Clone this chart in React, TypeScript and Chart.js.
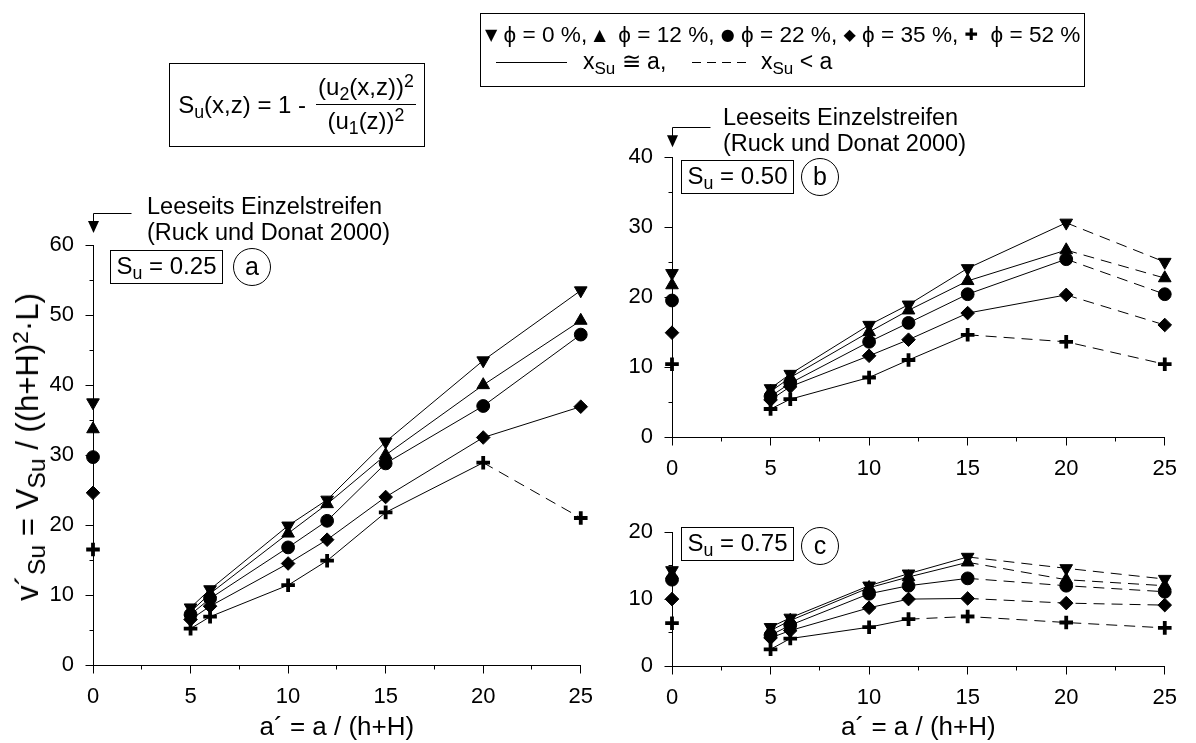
import React, { useEffect, useRef } from 'react';
import { Chart, registerables } from 'chart.js';

Chart.register(...registerables);

const FONT = '"Liberation Sans", Arial, Helvetica, sans-serif';
const SYMBOL_FONT = '"DejaVu Sans", sans-serif';
Chart.defaults.font.family = FONT;
Chart.defaults.color = '#000';

// relative spacing a' = a / (h+H) of the measured strip configurations
const spacing = [5, 6, 10, 12, 15, 20, 25];
const porosity = ['ϕ = 0 %', 'ϕ = 12 %', 'ϕ = 22 %', 'ϕ = 35 %', 'ϕ = 52 %'];
const X_TITLE = 'a´ = a / (h+H)';

// S_u = 0.25
const su25Phi0 = [8.2, 10.8, 19.9, 23.6, 31.9, 43.5, 53.5];
const su25Phi12 = [7.6, 10.2, 18.8, 23.0, 30.0, 40.0, 49.2];
const su25Phi22 = [7.2, 9.5, 16.8, 20.6, 28.8, 37.0, 47.2];
const su25Phi35 = [6.5, 8.4, 14.5, 17.9, 24.0, 32.5, 36.9];
const su25Phi52 = [5.2, 6.9, 11.4, 14.9, 21.8, 28.9, 21.0];
// single leeward strip (a' = 0)
const su25Single = [37.5, 33.7, 29.7, 24.6, 16.5];
// index of the first segment where x_Su < a (dashed)
const su25DashFrom = [7, 7, 7, 7, 5];
const su25Reference = 61.7;

// S_u = 0.50
const su50Phi0 = [6.95, 9.0, 16.0, 18.9, 24.1, 30.6, 25.0];
const su50Phi12 = [6.5, 8.5, 15.0, 18.1, 22.3, 26.7, 22.7];
const su50Phi22 = [5.8, 7.7, 13.6, 16.3, 20.4, 25.4, 20.4];
const su50Phi35 = [5.3, 7.2, 11.6, 13.9, 17.7, 20.3, 16.0];
const su50Phi52 = [4.0, 5.4, 8.5, 11.0, 14.6, 13.6, 10.4];
const su50Single = [23.4, 21.7, 19.5, 14.9, 10.4];
const su50DashFrom = [5, 5, 5, 5, 4];
const su50Reference = 41.4;

// S_u = 0.75
const su75Phi0 = [5.8, 7.2, 12.0, 13.8, 16.3, 14.6, 13.0];
const su75Phi12 = [5.3, 6.8, 11.7, 13.3, 15.5, 12.9, 12.0];
const su75Phi22 = [4.6, 6.1, 10.8, 12.0, 13.1, 12.0, 11.1];
const su75Phi35 = [4.2, 5.3, 8.7, 10.0, 10.1, 9.4, 9.1];
const su75Phi52 = [2.5, 4.1, 5.8, 7.0, 7.4, 6.5, 5.7];
const su75Single = [14.3, 13.6, 12.9, 10.0, 6.4];
const su75DashFrom = [4, 4, 4, 4, 3];

const MARKERS = [
  { style: 'triangle', rotation: 180, radius: 7.3, border: 1 },
  { style: 'triangle', rotation: 0, radius: 7.3, border: 1 },
  { style: 'circle', rotation: 0, radius: 6.4, border: 1 },
  { style: 'rectRot', rotation: 0, radius: 6.8, border: 1 },
  { style: 'cross', rotation: 0, radius: 6.8, border: 3.8 },
];

const pxAlign = (v: number) => Math.round(v - 0.5) + 0.5;

// minor/major tick marks and the pointer to the single-strip values
const axisMarks = {
  id: 'axisMarks',
  afterDraw(chart: any, _args: any, opts: any) {
    const { ctx } = chart;
    const xs = chart.scales.x;
    const ys = chart.scales.y;
    ctx.save();
    ctx.strokeStyle = '#000';
    ctx.fillStyle = '#000';
    ctx.lineWidth = 1;
    ctx.beginPath();
    const isMajor = (v: number, step: number) => Math.abs(v / step - Math.round(v / step)) < 1e-6;
    for (let v = xs.min; v <= xs.max + 1e-6; v += opts.xMinor) {
      const px = pxAlign(xs.getPixelForValue(v));
      const yb = pxAlign(ys.bottom);
      ctx.moveTo(px, yb);
      ctx.lineTo(px, yb + (isMajor(v, opts.xMajor) ? 8 : 4));
    }
    for (let v = ys.min; v <= ys.max + 1e-6; v += opts.yMinor) {
      const py = pxAlign(ys.getPixelForValue(v));
      const xl = pxAlign(xs.left);
      ctx.moveTo(xl, py);
      ctx.lineTo(xl - (isMajor(v, opts.yMajor) ? 8 : 4), py);
    }
    ctx.stroke();
    if (opts.arrowTip != null) {
      const x0 = pxAlign(xs.getPixelForValue(0));
      const tipY = ys.getPixelForValue(opts.arrowTip);
      const lineY = pxAlign(tipY - 20);
      ctx.beginPath();
      ctx.moveTo(x0 + opts.arrowLen, lineY);
      ctx.lineTo(x0, lineY);
      ctx.lineTo(x0, tipY - 10);
      ctx.stroke();
      ctx.beginPath();
      ctx.moveTo(x0 - 5.5, tipY - 12);
      ctx.lineTo(x0 + 5.5, tipY - 12);
      ctx.lineTo(x0, tipY);
      ctx.closePath();
      ctx.fill();
    }
    ctx.restore();
  },
};

type PanelSpec = {
  series: number[][];
  single: number[];
  dashFrom: number[];
  yMax: number;
  left: number;
  top: number;
  w: number;
  h: number;
  area: { l: number; r: number; t: number; b: number };
  xTitle: boolean;
  arrowTip?: number;
};

function buildDatasets(series: number[][], single: number[], dashFrom: number[]) {
  const out: any[] = [];
  series.forEach((vals, i) => {
    const m = MARKERS[i];
    const from = dashFrom[i];
    const pointProps = {
      pointStyle: m.style,
      pointRotation: m.rotation,
      pointRadius: m.radius,
      pointHoverRadius: m.radius,
      pointBorderWidth: m.border,
      pointBackgroundColor: '#000',
      pointBorderColor: '#000',
    };
    out.push({
      label: porosity[i],
      data: spacing.map((x, j) => ({ x, y: vals[j] })),
      borderColor: '#000',
      backgroundColor: '#000',
      borderWidth: 1,
      tension: 0,
      clip: false,
      segment: {
        borderDash: (ctx: any) => (ctx.p0DataIndex >= from ? [11, 7] : undefined),
      },
      ...pointProps,
    });
    out.push({
      label: porosity[i] + ' (Einzelstreifen)',
      data: [{ x: 0, y: single[i] }],
      showLine: false,
      borderColor: '#000',
      backgroundColor: '#000',
      clip: false,
      ...pointProps,
    });
  });
  return out;
}

function buildConfig(p: PanelSpec): any {
  return {
    type: 'line',
    data: { datasets: buildDatasets(p.series, p.single, p.dashFrom) },
    options: {
      responsive: false,
      animation: false,
      events: [],
      layout: { padding: { left: 0, top: p.area.t, right: p.w - p.area.r, bottom: 0 } },
      plugins: {
        legend: { display: false },
        tooltip: { enabled: false },
        axisMarks: { xMinor: 2.5, xMajor: 5, yMinor: 5, yMajor: 10, arrowTip: p.arrowTip, arrowLen: 38 },
      },
      scales: {
        x: {
          type: 'linear',
          min: 0,
          max: 25,
          afterFit: (s: any) => {
            s.height = p.h - p.area.b;
          },
          grid: { display: false, drawTicks: false },
          border: { display: true, color: '#000', width: 1 },
          ticks: { stepSize: 5, autoSkip: false, maxRotation: 0, padding: 19, color: '#000', font: { size: 22 } },
          title: {
            display: p.xTitle,
            text: X_TITLE,
            color: '#000',
            font: { size: 26 },
            padding: { top: 0, bottom: 0 },
          },
        },
        y: {
          type: 'linear',
          min: 0,
          max: p.yMax,
          afterFit: (s: any) => {
            s.width = p.area.l;
          },
          grid: { display: false, drawTicks: false },
          border: { display: true, color: '#000', width: 1 },
          ticks: { stepSize: 10, padding: 19, color: '#000', font: { size: 22 } },
        },
      },
    },
    plugins: [axisMarks],
  };
}

function Panel({ spec }: { spec: PanelSpec }) {
  const ref = useRef<HTMLCanvasElement>(null);
  useEffect(() => {
    const chart = new Chart(ref.current as HTMLCanvasElement, buildConfig(spec));
    return () => chart.destroy();
  }, []);
  return (
    <canvas
      ref={ref}
      width={spec.w}
      height={spec.h}
      style={{ position: 'absolute', left: spec.left, top: spec.top, width: spec.w, height: spec.h }}
    />
  );
}

const Sub = ({ children, size = '0.74em' }: { children: React.ReactNode; size?: string }) => (
  <span style={{ fontSize: size, position: 'relative', top: '0.3em' }}>{children}</span>
);
const Sup = ({ children }: { children: React.ReactNode }) => (
  <span style={{ fontSize: '0.74em', position: 'relative', top: '-0.45em' }}>{children}</span>
);
const Sym = ({ children }: { children: React.ReactNode }) => (
  <span style={{ fontFamily: SYMBOL_FONT, fontSize: 16, position: 'relative', top: -2 }}>{children}</span>
);

const abs = (left: number, top: number, extra: React.CSSProperties = {}): React.CSSProperties => ({
  position: 'absolute',
  left,
  top,
  whiteSpace: 'pre',
  ...extra,
});

function SuLabel({ left, top, value }: { left: number; top: number; value: string }) {
  return (
    <div
      style={abs(left, top, {
        width: 113,
        height: 34,
        border: '1px solid #000',
        boxSizing: 'border-box',
        fontSize: 24,
        display: 'flex',
        alignItems: 'center',
        justifyContent: 'center',
        lineHeight: '34px',
      })}
    >
      <span>
        S<Sub>u</Sub> = {value}
      </span>
    </div>
  );
}

function PanelLetter({ cx, cy, letter }: { cx: number; cy: number; letter: string }) {
  return (
    <div
      style={abs(cx - 19, cy - 19, {
        width: 38,
        height: 38,
        border: '1px solid #000',
        borderRadius: '50%',
        boxSizing: 'border-box',
        fontSize: 25,
        display: 'flex',
        alignItems: 'center',
        justifyContent: 'center',
      })}
    >
      <span style={{ position: 'relative', top: -1 }}>{letter}</span>
    </div>
  );
}

function Pointer({ left, top }: { left: number; top: number }) {
  return (
    <div style={abs(left, top, { fontSize: 23.5, lineHeight: '26px' })}>
      {'Leeseits Einzelstreifen\n(Ruck und Donat 2000)'}
    </div>
  );
}

const panelA: PanelSpec = {
  series: [su25Phi0, su25Phi12, su25Phi22, su25Phi35, su25Phi52],
  single: su25Single,
  dashFrom: su25DashFrom,
  yMax: 60,
  left: 0,
  top: 0,
  w: 612,
  h: 743,
  area: { l: 93, r: 593, t: 245, b: 665 },
  xTitle: true,
  arrowTip: su25Reference,
};

const panelB: PanelSpec = {
  series: [su50Phi0, su50Phi12, su50Phi22, su50Phi35, su50Phi52],
  single: su50Single,
  dashFrom: su50DashFrom,
  yMax: 40,
  left: 600,
  top: 95,
  w: 596,
  h: 400,
  area: { l: 72, r: 574, t: 62, b: 342 },
  xTitle: false,
  arrowTip: su50Reference,
};

const panelC: PanelSpec = {
  series: [su75Phi0, su75Phi12, su75Phi22, su75Phi35, su75Phi52],
  single: su75Single,
  dashFrom: su75DashFrom,
  yMax: 20,
  left: 600,
  top: 500,
  w: 596,
  h: 243,
  area: { l: 72, r: 574, t: 26, b: 166 },
  xTitle: true,
};

export default function App() {
  return (
    <div
      style={{
        position: 'absolute',
        left: 0,
        top: 0,
        width: 1196,
        height: 743,
        background: '#fff',
        fontFamily: FONT,
        color: '#000',
        overflow: 'hidden',
      }}
    >
      <Panel spec={panelA} />
      <Panel spec={panelB} />
      <Panel spec={panelC} />

      {/* y-axis title */}
      <div
        style={abs(29, 447, {
          fontSize: 31,
          transform: 'translate(-50%, -50%) rotate(-90deg)',
          lineHeight: '36px',
        })}
      >
        v´<Sub size="0.8em">Su</Sub> = V<Sub size="0.8em">Su</Sub> / ((h+H)<Sup>2</Sup>·L)
      </div>

      {/* legend */}
      <div
        style={abs(480, 13, {
          width: 605,
          height: 74,
          border: '1px solid #000',
          boxSizing: 'border-box',
        })}
      />
      <div style={abs(485, 21, { fontSize: 22.6, lineHeight: '28px' })}>
        <Sym>▼</Sym>
        {' ' + porosity[0] + ', '}
        <Sym>▲</Sym>
        {'  ' + porosity[1] + ', '}
        <Sym>●</Sym>
        {' ' + porosity[2] + ', '}
        <Sym>◆</Sym>
        {' ' + porosity[3] + ', '}
        <Sym>✚</Sym>
        {'  ' + porosity[4]}
      </div>
      <svg style={abs(496, 56)} width={72} height={12}>
        <line x1={0} y1={6.5} x2={71} y2={6.5} stroke="#000" strokeWidth={1} />
      </svg>
      <div style={abs(583, 47, { fontSize: 23, lineHeight: '28px' })}>
        x<Sub>Su</Sub> ≅ a,
      </div>
      <svg style={abs(692, 56)} width={60} height={12}>
        <line x1={0} y1={6.5} x2={57} y2={6.5} stroke="#000" strokeWidth={1} strokeDasharray="9 6" />
      </svg>
      <div style={abs(761, 47, { fontSize: 23, lineHeight: '28px' })}>
        x<Sub>Su</Sub> {'<'} a
      </div>

      {/* definition of S_u */}
      <div
        style={abs(169, 63, {
          width: 256,
          height: 84,
          border: '1px solid #000',
          boxSizing: 'border-box',
          fontSize: 24,
          display: 'flex',
          alignItems: 'center',
          justifyContent: 'center',
        })}
      >
        <span>
          S<Sub>u</Sub>(x,z) = 1 -
        </span>
        <span
          style={{
            display: 'inline-flex',
            flexDirection: 'column',
            alignItems: 'center',
            marginLeft: 10,
          }}
        >
          <span style={{ lineHeight: '30px', padding: '0 2px' }}>
            (u<Sub>2</Sub>(x,z))<Sup>2</Sup>
          </span>
          <span style={{ borderTop: '1px solid #000', alignSelf: 'stretch', height: 0 }} />
          <span style={{ lineHeight: '32px' }}>
            (u<Sub>1</Sub>(z))<Sup>2</Sup>
          </span>
        </span>
      </div>

      {/* panel labels */}
      <Pointer left={147} top={193} />
      <SuLabel left={110} top={250} value="0.25" />
      <PanelLetter cx={252} cy={267} letter="a" />

      <Pointer left={723} top={104} />
      <SuLabel left={681} top={160} value="0.50" />
      <PanelLetter cx={820} cy={177} letter="b" />

      <SuLabel left={681} top={527} value="0.75" />
      <PanelLetter cx={820} cy={546} letter="c" />
    </div>
  );
}
